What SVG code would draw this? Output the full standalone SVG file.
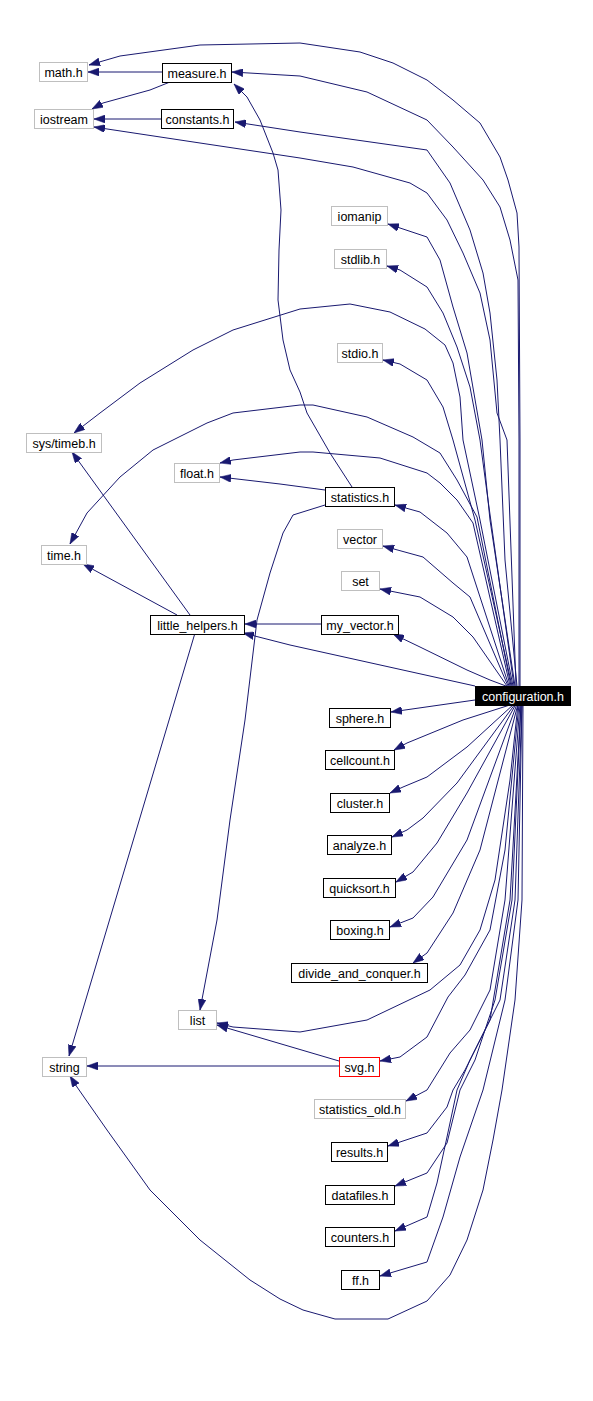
<svg xmlns="http://www.w3.org/2000/svg" width="593" height="1401" viewBox="0 0 593 1401">
<style>
.nd rect{fill:#fff;stroke:#000;stroke-width:1}
.sys rect{stroke:#bfbfbf}
.red rect{stroke:#ff0000}
.root rect{fill:#000;stroke:#000}
.nd text{font-family:"Liberation Sans",Arial,sans-serif;font-size:12.5px;text-anchor:middle;fill:#000}
.root text{fill:#fff}
#edges path{fill:none;stroke:#191970;stroke-width:1;marker-end:url(#ah)}
</style>
<defs>
<marker id="ah" markerWidth="11" markerHeight="8" refX="11" refY="4" orient="auto" markerUnits="userSpaceOnUse">
<path d="M0,0 L11,4 L0,8 z" fill="#191970" stroke="#191970" stroke-width="0.5"/>
</marker>
</defs>
<rect width="593" height="1401" fill="#fff"/>
<g id="edges">
<path d="M520,686 L520,440 L519,247 L517,213 L508,180 L500,157 L480,123 L453,100 L427,80 L393,63 L360,52 L300,43 L200,45 L120,56 L89,65"/>
<path d="M519,686 L519,440 L518,280 L510,240 L500,207 L483,180 L453,147 L427,120 L367,92 L300,76 L232,72"/>
<path d="M517,686 L505,560 L500,440 L497,380 L490,313 L483,273 L470,230 L450,183 L427,150 L300,132 L235,122"/>
<path d="M516,686 L507,440 L497,413 L490,340 L480,293 L463,253 L447,220 L427,193 L410,183 L353,167 L300,158 L200,143 L94,127"/>
<path d="M515,686 L490,520 L482,440 L467,353 L453,307 L440,260 L427,237 L400,228 L388,224"/>
<path d="M514,686 L488,500 L480,440 L470,387 L457,347 L443,313 L427,287 L400,270 L387,266"/>
<path d="M513,686 L480,520 L463,440 L460,397 L453,363 L445,345 L425,329 L390,312 L350,304 L300,309 L233,330 L193,350 L140,383 L100,413 L74,433"/>
<path d="M512,686 L475,520 L453,440 L443,407 L427,380 L400,364 L383,360"/>
<path d="M511,686 L477,517 L457,480 L440,453 L413,437 L367,417 L313,405 L300,405 L233,413 L207,423 L153,450 L120,477 L87,513 L70,544"/>
<path d="M510,686 L473,523 L457,500 L440,483 L427,473 L380,458 L313,452 L300,452 L233,460 L220,463"/>
<path d="M509,686 L467,557 L447,533 L420,512 L395,505"/>
<path d="M508,686 L470,597 L453,583 L423,557 L383,546"/>
<path d="M507,686 L473,637 L453,617 L420,597 L380,589"/>
<path d="M506,686 L490,680 L467,670 L420,647 L393,634"/>
<path d="M475,686 L290,645 L243,633"/>
<path d="M475,700 L391,712"/>
<path d="M513,704 L463,720 L407,743 L394,750"/>
<path d="M514,704 L467,747 L427,777 L403,787 L390,793"/>
<path d="M515,704 L457,783 L423,818 L407,830 L392,837"/>
<path d="M516,704 L467,793 L437,843 L413,872 L396,882"/>
<path d="M517,704 L467,840 L433,897 L413,918 L390,927"/>
<path d="M518,704 L480,850 L453,913 L427,953 L413,963"/>
<path d="M518,704 L510,780 L495,880 L480,930 L460,965 L430,990 L367,1020 L300,1032 L233,1027 L217,1023"/>
<path d="M519,704 L505,850 L490,930 L465,975 L448,997 L427,1037 L400,1057 L380,1061"/>
<path d="M520,704 L505,900 L490,990 L470,1030 L450,1053 L427,1090 L406,1101"/>
<path d="M521,704 L510,900 L490,1020 L465,1070 L453,1090 L447,1107 L427,1133 L388,1146"/>
<path d="M521,704 L512,900 L495,1000 L475,1060 L460,1090 L447,1143 L427,1173 L395,1186"/>
<path d="M522,704 L515,900 L500,1000 L470,1060 L457,1090 L447,1137 L437,1183 L427,1217 L395,1231"/>
<path d="M522,704 L518,900 L505,1000 L483,1090 L460,1157 L443,1217 L427,1262 L380,1276"/>
<path d="M523,704 L522,900 L515,1000 L502,1090 L493,1140 L483,1190 L467,1240 L450,1275 L427,1301 L388,1319 L335,1319 L303,1310 L280,1299 L250,1280 L200,1240 L150,1190 L107,1130 L77,1087 L70,1076"/>
<path d="M162,72 L88,72"/>
<path d="M170,82 L150,90 L103,103 L92,109"/>
<path d="M161,119 L94,119"/>
<path d="M325,490 L280,484 L220,477"/>
<path d="M352,487 L330,453 L307,413 L300,392 L290,370 L283,340 L278,300 L279,250 L281,210 L278,170 L273,153 L260,120 L247,97 L234,84"/>
<path d="M325,505 L293,515 L283,533 L270,573 L257,620 L245,720 L230,820 L217,920 L200,1010"/>
<path d="M190,615 L72,452"/>
<path d="M177,615 L83,564"/>
<path d="M195,633 L69,1056"/>
<path d="M321,624 L245,624"/>
<path d="M339,1061 L227,1028 L217,1025"/>
<path d="M339,1066 L87,1066"/>
</g>
<g id="n_math" class="nd sys"><rect x="39.5" y="62.5" width="48" height="19"/><text x="63.5" y="76.5">math.h</text></g>
<g id="n_measure" class="nd"><rect x="162.5" y="63.5" width="69" height="19"/><text x="197" y="77.5">measure.h</text></g>
<g id="n_iostream" class="nd sys"><rect x="34.5" y="109.5" width="59" height="19"/><text x="64" y="123.5">iostream</text></g>
<g id="n_constants" class="nd"><rect x="161.5" y="109.5" width="72" height="19"/><text x="197.5" y="123.5">constants.h</text></g>
<g id="n_iomanip" class="nd sys"><rect x="331.5" y="206.5" width="56" height="19"/><text x="359.5" y="220.5">iomanip</text></g>
<g id="n_stdlib" class="nd sys"><rect x="334.5" y="249.5" width="52" height="19"/><text x="360.5" y="263.5">stdlib.h</text></g>
<g id="n_stdio" class="nd sys"><rect x="337.5" y="343.5" width="45" height="19"/><text x="360" y="357.5">stdio.h</text></g>
<g id="n_systimeb" class="nd sys"><rect x="26.5" y="433.5" width="75" height="19"/><text x="64" y="447.5">sys/timeb.h</text></g>
<g id="n_float" class="nd sys"><rect x="174.5" y="463.5" width="45" height="19"/><text x="197" y="477.5">float.h</text></g>
<g id="n_statistics" class="nd"><rect x="325.5" y="487.5" width="69" height="19"/><text x="360" y="501.5">statistics.h</text></g>
<g id="n_vector" class="nd sys"><rect x="337.5" y="529.5" width="45" height="19"/><text x="360" y="543.5">vector</text></g>
<g id="n_time" class="nd sys"><rect x="41.5" y="545.5" width="45" height="19"/><text x="64" y="559.5">time.h</text></g>
<g id="n_set" class="nd sys"><rect x="341.5" y="571.5" width="38" height="19"/><text x="360.5" y="585.5">set</text></g>
<g id="n_myvector" class="nd"><rect x="321.5" y="615.5" width="77" height="19"/><text x="360" y="629.5">my_vector.h</text></g>
<g id="n_little" class="nd"><rect x="150.5" y="615.5" width="94" height="19"/><text x="197.5" y="629.5">little_helpers.h</text></g>
<g id="n_config" class="nd root"><rect x="475.5" y="686.5" width="95" height="19"/><text x="523" y="700.5">configuration.h</text></g>
<g id="n_sphere" class="nd"><rect x="329.5" y="708.5" width="61" height="19"/><text x="360" y="722.5">sphere.h</text></g>
<g id="n_cellcount" class="nd"><rect x="325.5" y="750.5" width="69" height="19"/><text x="360" y="764.5">cellcount.h</text></g>
<g id="n_cluster" class="nd"><rect x="330.5" y="793.5" width="59" height="19"/><text x="360" y="807.5">cluster.h</text></g>
<g id="n_analyze" class="nd"><rect x="327.5" y="835.5" width="64" height="19"/><text x="359.5" y="849.5">analyze.h</text></g>
<g id="n_quicksort" class="nd"><rect x="323.5" y="878.5" width="72" height="19"/><text x="359.5" y="892.5">quicksort.h</text></g>
<g id="n_boxing" class="nd"><rect x="330.5" y="920.5" width="59" height="19"/><text x="360" y="934.5">boxing.h</text></g>
<g id="n_divide" class="nd"><rect x="291.5" y="963.5" width="136" height="19"/><text x="359.5" y="977.5">divide_and_conquer.h</text></g>
<g id="n_list" class="nd sys"><rect x="178.5" y="1010.5" width="38" height="19"/><text x="197.5" y="1024.5">list</text></g>
<g id="n_string" class="nd sys"><rect x="42.5" y="1057.5" width="44" height="19"/><text x="64.5" y="1071.5">string</text></g>
<g id="n_svg" class="nd red"><rect x="339.5" y="1057.5" width="40" height="19"/><text x="359.5" y="1071.5">svg.h</text></g>
<g id="n_statold" class="nd sys"><rect x="314.5" y="1099.5" width="91" height="19"/><text x="360" y="1113.5">statistics_old.h</text></g>
<g id="n_results" class="nd"><rect x="331.5" y="1142.5" width="56" height="19"/><text x="359.5" y="1156.5">results.h</text></g>
<g id="n_datafiles" class="nd"><rect x="325.5" y="1185.5" width="69" height="19"/><text x="360" y="1199.5">datafiles.h</text></g>
<g id="n_counters" class="nd"><rect x="325.5" y="1227.5" width="69" height="19"/><text x="360" y="1241.5">counters.h</text></g>
<g id="n_ff" class="nd"><rect x="341.5" y="1270.5" width="38" height="19"/><text x="360.5" y="1284.5">ff.h</text></g>
</svg>
